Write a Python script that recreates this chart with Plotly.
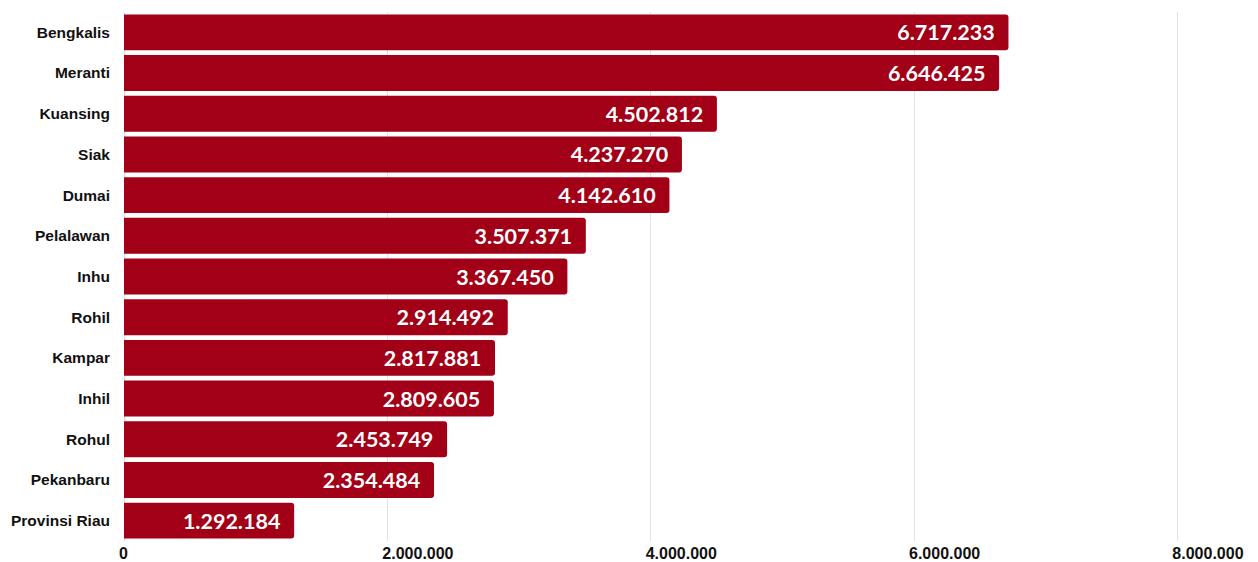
import plotly.graph_objects as go

# Regions and their values
regions = [
    "Bengkalis", "Meranti", "Kuansing", "Siak", "Dumai", "Pelalawan", "Inhu",
    "Rohil", "Kampar", "Inhil", "Rohul", "Pekanbaru", "Provinsi Riau",
]
values = [
    6717233, 6646425, 4502812, 4237270, 4142610, 3507371, 3367450,
    2914492, 2817881, 2809605, 2453749, 2354484, 1292184,
]
x_ticks = [0, 2000000, 4000000, 6000000, 8000000]

BAR_COLOR = "#A10016"

fig = go.Figure(
    go.Bar(
        x=values,
        y=regions,
        orientation="h",
        marker=dict(color=BAR_COLOR, cornerradius=3, line=dict(width=0)),
        texttemplate="%{x:,d}\u2002",
        textposition="inside",
        insidetextanchor="end",
        textfont=dict(family="Lato", size=21.5, color="white", weight="bold"),
        cliponaxis=False,
        hoverinfo="skip",
    )
)

fig.update_layout(
    width=1258,
    height=562,
    margin=dict(l=124, r=78, t=12, b=21),
    paper_bgcolor="white",
    plot_bgcolor="white",
    separators=",.",
    bargap=0.117,
    showlegend=False,
    font=dict(family="Liberation Sans", color="#111111"),
)

fig.update_xaxes(
    range=[0, 8020000],
    tickvals=x_ticks,
    tickformat=",d",
    automargin=False,
    showgrid=True,
    gridcolor="#e2e2e2",
    gridwidth=1,
    zeroline=True,
    zerolinecolor="#dddddd",
    zerolinewidth=1,
    showline=False,
    ticks="",
    ticklabelposition="outside right",
    ticklabelshift=-5,
    ticklabelstandoff=1,
    tickfont=dict(family="Liberation Sans", size=16, color="#111111", weight="bold"),
)

fig.update_yaxes(
    autorange="reversed",
    automargin=False,
    showgrid=False,
    showline=False,
    ticks="",
    ticklabelstandoff=13,
    tickfont=dict(family="Liberation Sans", size=15.5, color="#111111", weight="bold"),
)

fig.write_html("out.html")
